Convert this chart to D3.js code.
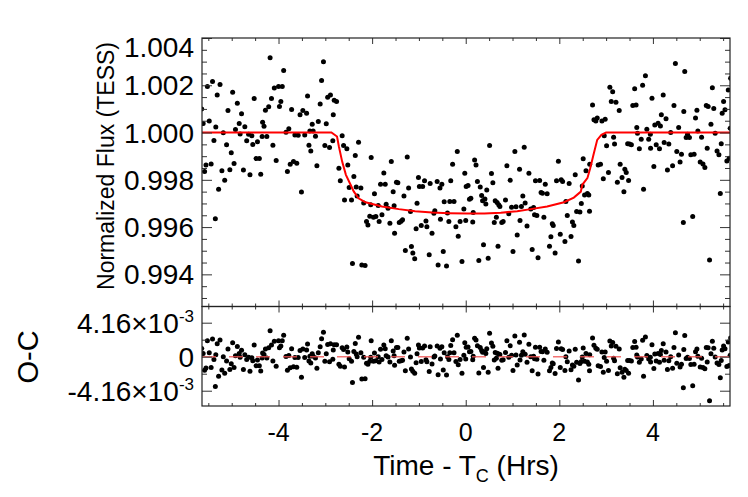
<!DOCTYPE html>
<html>
<head>
<meta charset="utf-8">
<script src="https://cdn.jsdelivr.net/npm/d3@7"></script>
<style>
    body { margin: 0; background: #ffffff; }
    text { font-family: "Liberation Sans", Arial, Helvetica, sans-serif; fill: #000; }
</style>
</head>
<body>
<svg id="chart" width="748" height="497"></svg>
<script>

/* Light curve points: [time from Tc (hrs), normalized flux] */
let lightCurve = [
    [-5.64,1.00100],[-5.61,1.00038],[-5.58,0.99835],[-5.55,0.99863],[-5.52,1.00195],[-5.48,1.00049],[-5.44,0.99867],[-5.41,1.00216],
    [-5.38,0.99966],[-5.35,0.99635],[-5.34,1.00023],[-5.31,1.00159],[-5.28,0.99760],[-5.25,1.00203],[-5.21,0.99838],[-5.18,0.99999],
    [-5.15,0.99798],[-5.11,0.99948],[-5.08,1.00093],[-5.04,0.99843],[-5.01,0.99914],[-4.98,1.00171],[-4.95,0.99869],[-4.92,1.00013],
    [-4.88,1.00124],[-4.84,1.00038],[-4.82,0.99994],[-4.79,1.00080],[-4.75,0.99842],[-4.72,1.00024],[-4.68,0.99965],[-4.64,0.99993],
    [-4.61,0.99821],[-4.57,0.99986],[-4.55,0.99949],[-4.52,1.00144],[-4.48,0.99890],[-4.45,0.99961],[-4.41,0.99890],[-4.38,0.99824],
    [-4.35,0.99983],[-4.34,1.00044],[-4.31,1.00027],[-4.28,1.00094],[-4.25,0.99983],[-4.21,1.00109],[-4.18,1.00316],[-4.15,1.00144],
    [-4.12,0.99946],[-4.09,1.00188],[-4.05,0.99882],[-4.00,1.00195],[-3.98,1.00110],[-3.95,1.00131],[-3.92,1.00195],[-3.89,1.00262],
    [-3.84,1.00001],[-3.81,0.99835],[-3.78,1.00016],[-3.75,0.99866],[-3.72,1.00097],[-3.68,0.99877],[-3.65,0.99990],[-3.61,0.99870],
    [-3.58,0.99989],[-3.54,1.00075],[-3.51,0.99748],[-3.48,1.00093],[-3.44,0.99990],[-3.40,1.00082],[-3.38,1.00155],[-3.35,0.99946],
    [-3.33,1.00006],[-3.31,0.99922],[-3.28,1.00035],[-3.26,1.00007],[-3.21,0.99984],[-3.18,0.99860],[-3.15,1.00047],[-3.11,1.00121],
    [-3.08,1.00220],[-3.04,1.00300],[-3.01,0.99945],[-2.98,1.00037],[-2.95,1.00149],[-2.91,0.99937],[-2.89,1.00159],[-2.84,0.99965],
    [-2.83,1.00075],[-2.81,1.00137],
    [-2.76,1.00131],[-2.71,0.99849],[-2.68,0.99796],[-2.64,0.99986],[-2.61,0.99945],[-2.59,0.99715],[-2.54,0.99931],[-2.52,0.99863],
    [-2.49,0.99767],[-2.44,0.99715],[-2.42,0.99446],[-2.39,0.99814],[-2.36,0.99903],[-2.34,0.99770],[-2.32,0.99731],[-2.29,0.99959],
    [-2.24,0.99765],[-2.22,0.99440],[-2.18,0.99702],[-2.15,0.99437],[-2.12,0.99624],[-2.09,0.99609],[-2.05,0.99646],[-2.03,0.99694],
    [-2.02,0.99894],[-1.97,0.99642],[-1.95,0.99741],[-1.92,0.99645],[-1.87,0.99691],[-1.85,0.99624],[-1.82,0.99781],[-1.79,0.99652],
    [-1.75,0.99829],[-1.72,0.99781],[-1.70,0.99697],[-1.66,0.99680],[-1.62,0.99616],[-1.59,0.99877],[-1.55,0.99750],[-1.53,0.99690],
    [-1.52,0.99574],[-1.48,0.99790],[-1.45,0.99788],[-1.42,0.99619],[-1.38,0.99625],[-1.35,0.99631],[-1.32,0.99732],[-1.29,0.99501],
    [-1.25,0.99897],[-1.22,0.99765],[-1.18,0.99666],[-1.16,0.99518],[-1.13,0.99490],[-1.09,0.99466],[-1.06,0.99593],[-1.04,0.99701],
    [-1.01,0.99810],[-0.99,0.99772],[-0.95,0.99607],[-0.92,0.99772],[-0.88,0.99796],[-0.85,0.99626],[-0.83,0.99601],[-0.78,0.99483],
    [-0.76,0.99784],[-0.72,0.99574],[-0.68,0.99659],[-0.66,0.99669],[-0.61,0.99793],[-0.59,0.99440],[-0.55,0.99765],[-0.54,0.99633],
    [-0.51,0.99781],[-0.48,0.99497],[-0.46,0.99707],[-0.41,0.99435],[-0.39,0.99660],[-0.36,0.99624],[-0.34,0.99708],[-0.32,0.99796],
    [-0.28,0.99866],[-0.25,0.99708],[-0.21,0.99601],[-0.18,0.99920],[-0.16,0.99561],[-0.12,0.99624],[-0.08,0.99454],[-0.04,0.99676],
    [-0.02,0.99828],[0.00,0.99628],[0.01,0.99772],
    [0.05,0.99776],[0.08,0.99718],[0.11,0.99722],[0.15,0.99621],[0.16,0.99662],[0.19,0.99884],[0.22,0.99863],[0.25,0.99793],
    [0.28,0.99459],[0.31,0.99770],[0.34,0.99734],[0.36,0.99711],[0.38,0.99525],[0.41,0.99719],[0.43,0.99698],[0.45,0.99757],
    [0.48,0.99468],[0.51,0.99945],[0.55,0.99827],[0.58,0.99788],[0.61,0.99619],[0.63,0.99711],[0.655,0.99642],[0.67,0.99704],
    [0.69,0.99519],[0.705,0.99694],[0.73,0.99687],[0.77,0.99619],[0.80,0.99624],[0.85,0.99715],[0.88,0.99859],[0.92,0.99656],
    [0.95,0.99798],[0.98,0.99684],[1.01,0.99497],[1.05,0.99920],[1.075,0.99686],[1.10,0.99567],[1.15,0.99845],[1.16,0.99628],
    [1.19,0.99687],[1.22,0.99731],[1.25,0.99938],[1.27,0.99702],[1.31,0.99605],[1.35,0.99828],[1.39,0.99676],[1.42,0.99505],
    [1.45,0.99683],[1.47,0.99652],[1.49,0.99796],[1.52,0.99649],[1.545,0.99470],[1.58,0.99797],[1.61,0.99746],[1.64,0.99743],
    [1.67,0.99642],[1.70,0.99781],[1.74,0.99741],[1.79,0.99519],[1.82,0.99559],[1.85,0.99614],[1.87,0.99607],[1.91,0.99490],
    [1.94,0.99796],[1.98,0.99879],[2.02,0.99570],[2.04,0.99800],[2.07,0.99793],[2.12,0.99539],[2.14,0.99708],[2.17,0.99649],
    [2.21,0.99784],[2.25,0.99560],[2.28,0.99621],[2.31,0.99607],[2.34,0.99821],[2.37,0.99666],[2.41,0.99456],[2.44,0.99664],
    [2.47,0.99700],[2.49,0.99774],[2.51,0.99889],[2.54,0.99736],[2.57,0.99838],[2.60,0.99742],[2.63,0.99736],[2.645,0.99667],
    [2.65,0.99866],[2.71,1.00117],[2.74,1.00054],[2.78,1.00049],[2.81,1.00061],[2.83,0.99863],
    [2.88,0.99866],[2.91,1.00049],[2.94,0.99804],[2.96,0.99986],[2.98,1.00056],[3.01,0.99944],[3.05,0.99831],[3.08,1.00192],
    [3.11,1.00131],[3.14,1.00173],[3.16,0.99980],[3.18,0.99951],[3.21,1.00128],[3.24,0.99790],[3.28,1.00093],[3.30,0.99866],
    [3.34,0.99810],[3.38,0.99750],[3.40,0.99845],[3.43,0.99831],[3.46,0.99953],[3.48,0.99797],[3.50,0.99952],[3.54,0.99948],
    [3.57,1.00114],[3.61,1.00185],[3.64,1.00117],[3.655,1.00021],[3.67,0.99997],[3.71,0.99931],[3.75,0.99972],[3.78,1.00200],
    [3.80,0.99760],[3.84,1.00240],[3.87,1.00014],[3.91,0.99972],[3.945,0.99993],[3.95,0.99934],[3.98,1.00145],[4.02,0.99856],
    [4.04,1.00032],[4.07,0.99948],[4.11,1.00039],[4.14,0.99931],[4.16,1.00028],[4.18,1.00075],[4.22,1.00159],[4.24,0.99958],
    [4.28,1.00058],[4.31,0.99842],[4.34,0.99951],[4.38,1.00000],[4.42,0.99859],[4.45,1.00114],[4.48,1.00292],[4.51,0.99920],
    [4.55,1.00021],[4.58,0.99875],[4.61,0.99908],[4.65,0.99619],[4.66,1.00089],[4.68,1.00258],[4.71,0.99979],[4.74,0.99993],
    [4.78,0.99979],[4.81,0.99906],[4.85,0.99645],[4.88,0.99908],[4.91,1.00062],[4.94,1.00094],[4.96,1.00007],[5.01,0.99875],
    [5.04,0.99980],[5.07,0.99867],[5.11,0.99852],[5.14,1.00114],[5.16,0.99934],[5.18,1.00110],[5.21,0.99461],[5.24,1.00035],
    [5.27,1.00190],[5.30,1.00102],[5.33,0.99997],[5.37,0.99922],[5.41,0.99906],[5.44,0.99742],[5.46,0.99953],[5.48,1.00082],
    [5.51,1.00131],[5.54,1.00096],[5.58,0.99880],[5.61,1.00180],[5.63,0.99891],[5.65,1.00018],[5.66,1.00230]
];

/* Transit model (red curve) */
let modelTime = [-5.70, -2.87, -2.75, -2.71, -2.64, -2.56, -2.46, -2.39, -2.29, -2.14, -1.79, -1.43, -1.08, -0.72, -0.36,
    0.03, 0.40, 0.75, 1.10, 1.39, 1.74, 2.10, 2.31, 2.46, 2.49, 2.60, 2.66, 2.73, 2.81, 2.90, 3.00, 5.70];
let modelFlux = [1.00000, 1.00000, 0.99983, 0.99941, 0.99877, 0.99821, 0.99779, 0.99750, 0.99722, 0.99705, 0.99687, 0.99676, 0.99667, 0.99662, 0.99659,
    0.99657, 0.99658, 0.99661, 0.99667, 0.99676, 0.99687, 0.99705, 0.99725, 0.99750, 0.99779, 0.99807, 0.99849, 0.99906, 0.99969, 0.99990, 1.00000, 1.00000];

/* Tick values and labels */
let xTicks = [-4, -2, 0, 2, 4];
let xTickLabels = ["-4", "-2", "0", "2", "4"];
let fluxTicks = [0.994, 0.996, 0.998, 1.000, 1.002, 1.004];
let fluxTickLabels = ["0.994", "0.996", "0.998", "1.000", "1.002", "1.004"];
let resTicks = [-4.16e-3, 0, 4.16e-3];
let resTickLabels = [["-4.16\u00d710", "-3"], ["0", ""], ["4.16\u00d710", "-3"]];
let resMinorTicks = [-2.08e-3, 2.08e-3];

/* Layout */
let width = 748;
let height = 497;
let leftX = 202;
let rightX = 730;
let topY = 38;
let midY = 306.5;
let bottomY = 406;

let svg = d3.select("#chart");
svg.append("rect").attr("width", width).attr("height", height).attr("fill", "#ffffff");

/* Scales */
let xScale = d3.scaleLinear().domain([-5.635, 5.647]).range([leftX, rightX]);
let yFlux = d3.scaleLinear().domain([0.99264, 1.004]).range([midY, topY]);
let yRes = d3.scaleLinear().domain([-6.03e-3, 6.14e-3]).range([bottomY, midY]);

/* Model value at any time, reading along the traced curve */
let modelPts = modelTime.map((t, i) => [t, modelFlux[i]]);
function modelAt(t) {
    let i = d3.bisector(d => d[0]).left(modelPts, t);
    if (i <= 0) return modelPts[0][1];
    if (i >= modelPts.length) return modelPts[modelPts.length - 1][1];
    let a = modelPts[i - 1], b = modelPts[i];
    return a[1] + (b[1] - a[1]) * (t - a[0]) / (b[0] - a[0]);
}
let residuals = lightCurve.map(d => [d[0], d[1] - modelAt(d[0])]);

/* Clip paths for the two panels */
let defs = svg.append("defs");
defs.append("clipPath").attr("id", "clipTop").append("rect")
    .attr("x", leftX).attr("y", topY).attr("width", rightX - leftX).attr("height", midY - topY);
defs.append("clipPath").attr("id", "clipBot").append("rect")
    .attr("x", leftX).attr("y", midY).attr("width", rightX - leftX).attr("height", bottomY - midY);

/* Top panel: data points then model */
let topG = svg.append("g").attr("clip-path", "url(#clipTop)");
topG.selectAll("circle")
    .data(lightCurve)
    .enter()
    .append("circle")
    .attr("cx", d => xScale(d[0]))
    .attr("cy", d => yFlux(d[1]))
    .attr("r", 2.5)
    .attr("fill", "#000");

topG.append("path")
    .datum(modelPts)
    .attr("fill", "none")
    .attr("stroke", "#ff0000")
    .attr("stroke-width", 2)
    .attr("d", d3.line().x(d => xScale(d[0])).y(d => yFlux(d[1])));

/* Bottom panel: residuals and dashed zero line */
let botG = svg.append("g").attr("clip-path", "url(#clipBot)");
botG.selectAll("circle")
    .data(residuals)
    .enter()
    .append("circle")
    .attr("cx", d => xScale(d[0]))
    .attr("cy", d => yRes(d[1]))
    .attr("r", 2.5)
    .attr("fill", "#000");

botG.append("line")
    .attr("x1", leftX).attr("x2", rightX)
    .attr("y1", yRes(0)).attr("y2", yRes(0))
    .attr("stroke", "#f05050")
    .attr("stroke-opacity", 0.8)
    .attr("stroke-width", 1.5)
    .attr("stroke-dasharray", "14,13");

/* Ticks drawn with d3 axes, labels added separately */
function tickAxis(axisFn, scale, values, size, tx, ty) {
    svg.append("g")
        .attr("transform", "translate(" + tx + "," + ty + ")")
        .call(axisFn(scale).tickValues(values).tickSize(size).tickFormat(""))
        .call(g => g.select(".domain").remove())
        .call(g => g.selectAll("line").attr("stroke", "#333").attr("stroke-width", 1));
}

let xMinor = d3.range(-5.5, 5.51, 0.5).filter(v => xTicks.indexOf(v) < 0);
let fluxMinor = d3.range(0.993, 1.00401, 0.0005).filter(v => !fluxTicks.some(t => Math.abs(t - v) < 1e-7));

/* x ticks on every horizontal edge, pointing inward */
[[d3.axisBottom, topY], [d3.axisTop, midY], [d3.axisBottom, midY], [d3.axisTop, bottomY]].forEach(p => {
    tickAxis(p[0], xScale, xTicks, 6, 0, p[1]);
    tickAxis(p[0], xScale, xMinor, 3, 0, p[1]);
});

/* y ticks on both sides of each panel */
tickAxis(d3.axisRight, yFlux, fluxTicks, 10, leftX, 0);
tickAxis(d3.axisRight, yFlux, fluxMinor, 5, leftX, 0);
tickAxis(d3.axisLeft, yFlux, fluxTicks, 10, rightX, 0);
tickAxis(d3.axisLeft, yFlux, fluxMinor, 5, rightX, 0);
tickAxis(d3.axisRight, yRes, resTicks, 10, leftX, 0);
tickAxis(d3.axisRight, yRes, resMinorTicks, 5, leftX, 0);
tickAxis(d3.axisLeft, yRes, resTicks, 10, rightX, 0);
tickAxis(d3.axisLeft, yRes, resMinorTicks, 5, rightX, 0);

/* Frames */
[[topY, midY], [midY, bottomY]].forEach(p => {
    svg.append("rect")
        .attr("x", leftX).attr("y", p[0])
        .attr("width", rightX - leftX).attr("height", p[1] - p[0])
        .attr("fill", "none")
        .attr("stroke", "#222")
        .attr("stroke-width", 1.2);
});

/* Tick labels */
svg.selectAll("text.xlab")
    .data(xTicks)
    .enter()
    .append("text")
    .attr("class", "xlab")
    .attr("x", d => xScale(d))
    .attr("y", 441)
    .attr("text-anchor", "middle")
    .style("font-size", "25px")
    .text((d, i) => xTickLabels[i]);

svg.selectAll("text.flab")
    .data(fluxTicks)
    .enter()
    .append("text")
    .attr("class", "flab")
    .attr("x", 194)
    .attr("y", d => Math.max(yFlux(d), topY + 9) + 10)
    .attr("text-anchor", "end")
    .style("font-size", "28px")
    .text((d, i) => fluxTickLabels[i]);

resTicks.forEach((v, i) => {
    let t = svg.append("text")
        .attr("x", 194)
        .attr("y", yRes(v) + 10)
        .attr("text-anchor", "end")
        .style("font-size", "28px");
    t.append("tspan").text(resTickLabels[i][0]);
    if (resTickLabels[i][1]) {
        t.append("tspan").attr("dy", -11).style("font-size", "17px").text(resTickLabels[i][1]);
    }
});

/* Axis titles */
let xTitle = svg.append("text")
    .attr("x", (leftX + rightX) / 2)
    .attr("y", 475)
    .attr("text-anchor", "middle")
    .style("font-size", "28px");
xTitle.append("tspan").text("Time - T");
xTitle.append("tspan").attr("dy", 7).style("font-size", "18px").text("C");
xTitle.append("tspan").attr("dy", -7).text(" (Hrs)");

svg.append("text")
    .attr("transform", "translate(114," + 166 + ") rotate(-90)")
    .attr("text-anchor", "middle")
    .style("font-size", "23px")
    .text("Normalized Flux (TESS)");

svg.append("text")
    .attr("transform", "translate(38," + 357 + ") rotate(-90)")
    .attr("text-anchor", "middle")
    .style("font-size", "29px")
    .text("O-C");

</script>
</body>
</html>
